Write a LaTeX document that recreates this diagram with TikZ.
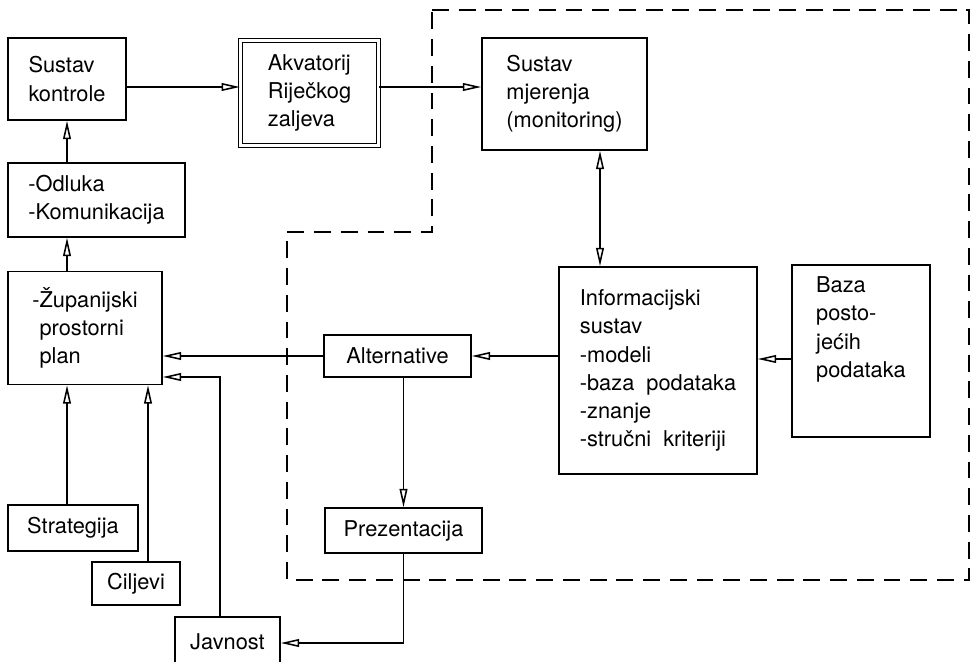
\documentclass[tikz,border=0pt]{standalone}
\usepackage{fontspec}
\setmainfont{TeX Gyre Heros}
\usetikzlibrary{arrows.meta}

\begin{document}
\begin{tikzpicture}[x=0.025cm, y=-0.025cm, line width=1.1pt,
    >={Triangle[open, length=13pt, width=5.5pt]},
    blok/.style={draw, align=left, inner sep=0pt, font=\fontsize{15.5}{20}\selectfont},
    vel/.style 2 args={minimum width=#1*0.025cm, minimum height=#2*0.025cm},
    granica/.style={dashed, dash pattern=on 12pt off 7pt, line width=1pt}]
  \useasboundingbox (0,0) rectangle (972,662);

  % Nodes
  \node[blok, vel={118}{82}] (kontrola) at (67,79) {Sustav\\kontrole};
  \node[blok, vel={138}{105}, double, double distance=2.2pt, line width=0.9pt] (akvatorij) at (309.5,93) {Akvatorij\\Riječkog\\zaljeva};
  \node[blok, vel={165}{112}] (mjerenje) at (564.5,94) {Sustav\\mjerenja\\(monitoring)};
  \node[blok, vel={177}{74}] (odluka) at (96.5,200) {-Odluka\\-Komunikacija};
  \node[blok, vel={154}{113}] (plan) at (85,328) {-Županijski\\\phantom{-}prostorni\\\phantom{-}plan};
  \node[blok, vel={130}{46}] (strategija) at (73,528) {Strategija};
  \node[blok, vel={88}{43}] (ciljevi) at (136,583.5) {Ciljevi};
  \node[blok, vel={105}{50}] (javnost) at (227.5,642) {Javnost};
  \node[blok, vel={147}{42}] (alternative) at (397.5,356) {Alternative};
  \node[blok, vel={157}{45}] (prezentacija) at (403.5,530.5) {Prezentacija};
  \node[blok, vel={198}{207}] (info) at (658,370.5) {Informacijski\\sustav\\-modeli\\-baza~ podataka\\-znanje\\-stručni~ kriteriji};
  \node[blok, vel={138}{172}] (baza) at (861,351) {Baza\\posto-\\jećih\\podataka\\[14pt]};

  % Boundary of the measuring part
  \draw[granica] (432,10) -- (969,10) -- (969,580) -- (287,580) -- (287,232) -- (432,232) -- cycle;

  % Edges
  \draw[->] (kontrola.east |- 0,87) -- (akvatorij.west |- 0,87);
  \draw[->] (akvatorij.east |- 0,87) -- (mjerenje.west |- 0,87);
  \draw[->] (kontrola.south |- odluka.north) -- (kontrola.south);
  \draw[->] (plan.north -| kontrola.south) -- (odluka.south -| kontrola.south);
  \draw[->] (strategija.north -| kontrola.south) -- (plan.south -| kontrola.south);
  \draw[->] (ciljevi.north -| 148,0) -- (plan.south -| 148,0);
  \draw[->] (javnost.north -| 220,0) |- (plan.east |- 0,377);
  \draw[->] (alternative.west) -- (plan.east |- alternative.west);
  \draw[->] (info.west |- alternative.east) -- (alternative.east);
  \draw[->] (baza.west |- 0,359) -- (info.east |- 0,359);
  \draw[<->] (mjerenje.south -| 600,0) -- (info.north -| 600,0);
  \draw[->] (alternative.south -| prezentacija.north) -- (prezentacija.north);
  \draw[->] (prezentacija.south) |- (javnost.east |- 0,643);
\end{tikzpicture}
\end{document}
